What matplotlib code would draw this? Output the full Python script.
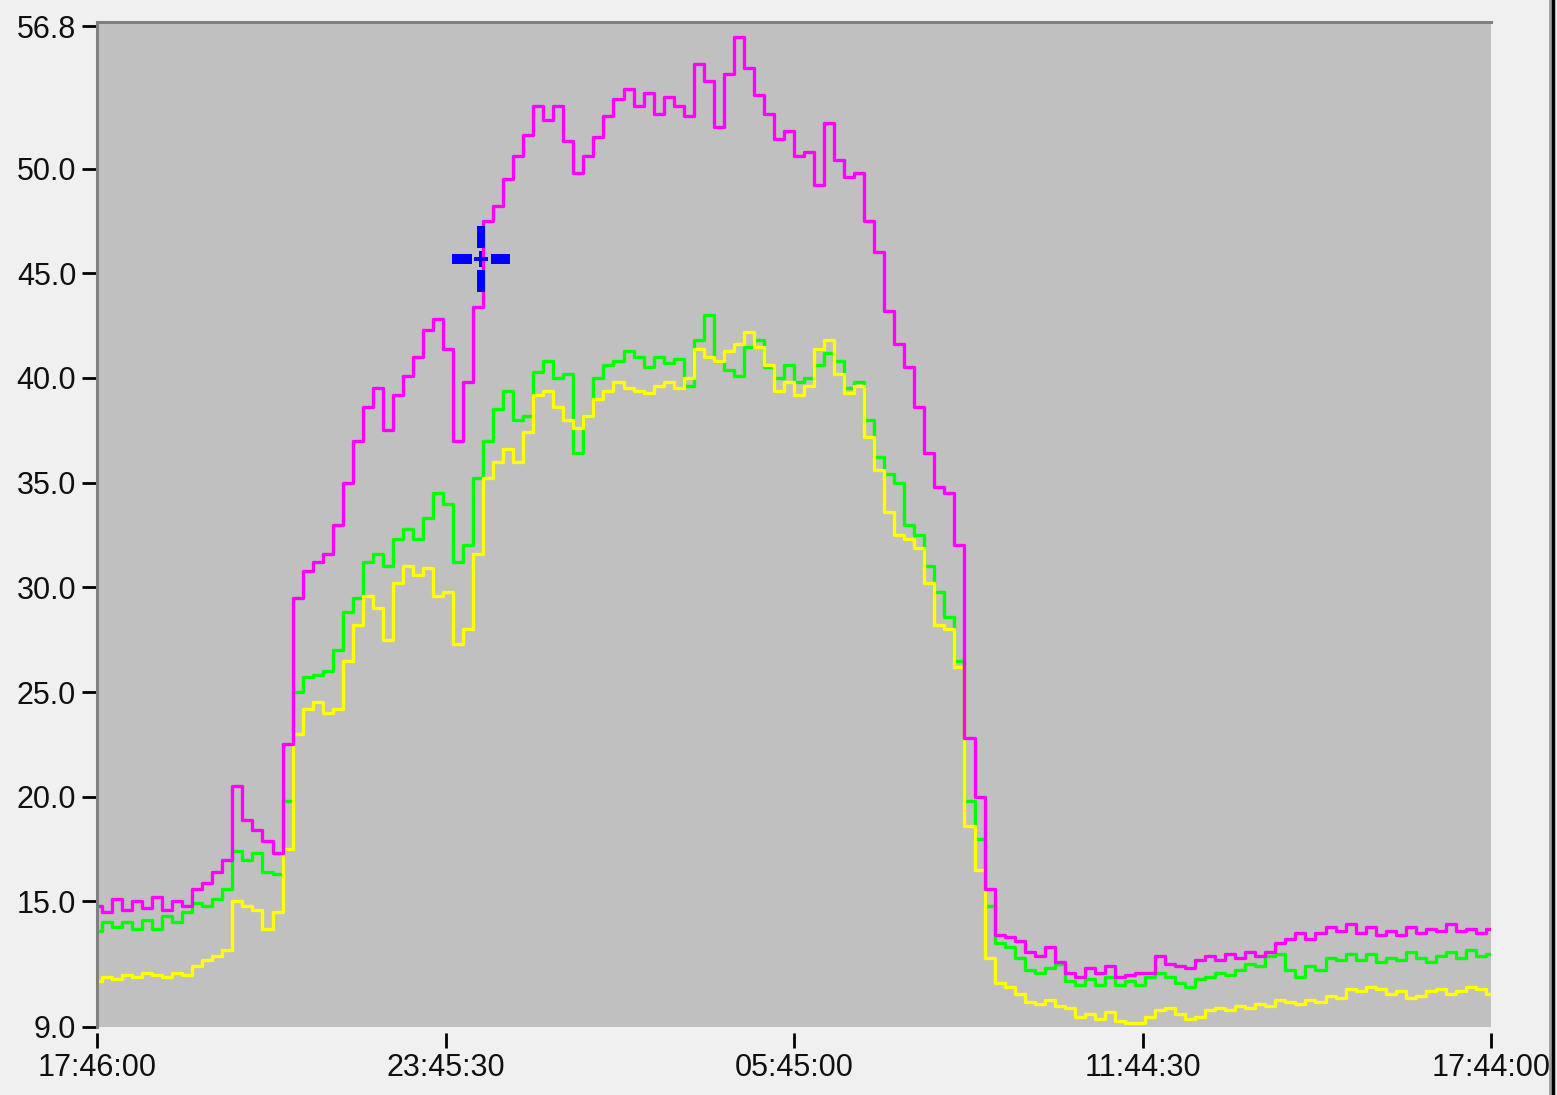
import matplotlib
matplotlib.use("Agg")
import matplotlib.pyplot as plt
import matplotlib.transforms as mtransforms
from matplotlib import font_manager
from matplotlib.patches import Rectangle
from matplotlib.lines import Line2D
import numpy as np

# time span of the record in seconds after 17:46:00 (ends 17:44:00 next day)
span_seconds = 86280
tick_seconds = [0, 21570, 43140, 64710, 86280]
tick_labels = ["17:46:00", "23:45:30", "05:45:00", "11:44:30", "17:44:00"]
y_ticks = [9.0, 15.0, 20.0, 25.0, 30.0, 35.0, 40.0, 45.0, 50.0, 56.8]

# magenta channel
magenta_vals = [
    14.8, 14.5, 15.1, 14.6, 15.0, 14.7, 15.2, 14.6, 15.0, 14.8,
    15.6, 15.9, 16.4, 17.0, 20.5, 18.9, 18.4, 17.9, 17.3, 22.5,
    29.5, 30.8, 31.2, 31.6, 33.0, 35.0, 37.0, 38.6, 39.5, 37.5,
    39.2, 40.1, 41.0, 42.3, 42.8, 41.4, 37.0, 39.8, 43.4, 47.5,
    48.2, 49.5, 50.6, 51.6, 53.0, 52.3, 53.0, 51.3, 49.8, 50.6,
    51.5, 52.5, 53.3, 53.8, 53.0, 53.6, 52.6, 53.4, 53.0, 52.5,
    55.0, 54.2, 52.0, 54.5, 56.3, 54.8, 53.5, 52.6, 51.4, 51.8,
    50.6, 50.8, 49.2, 52.2, 50.4, 49.6, 49.8, 47.5, 46.0, 43.2,
    41.6, 40.5, 38.6, 36.4, 34.8, 34.5, 32.0, 22.8, 20.0, 15.6,
    13.4, 13.3, 13.1, 12.6, 12.4, 12.8, 12.1, 11.6, 11.4, 11.8,
    11.6, 11.9, 11.4, 11.5, 11.6, 11.6, 12.4, 12.0, 11.9, 11.8,
    12.2, 12.4, 12.2, 12.5, 12.3, 12.6, 12.4, 12.6, 13.0, 13.2,
    13.5, 13.2, 13.5, 13.8, 13.6, 13.9, 13.5, 13.8, 13.4, 13.6,
    13.4, 13.8, 13.5, 13.7, 13.6, 13.9, 13.6, 13.7, 13.5, 13.7,
]

# green channel
green_vals = [
    13.6, 14.0, 13.8, 14.0, 13.7, 14.1, 13.7, 14.3, 14.0, 14.5,
    14.9, 14.8, 15.1, 15.6, 17.4, 17.0, 17.3, 16.4, 16.3, 19.8,
    25.0, 25.7, 25.8, 26.0, 27.0, 28.8, 29.5, 31.2, 31.6, 31.0,
    32.3, 32.8, 32.3, 33.3, 34.5, 34.0, 31.2, 32.0, 35.2, 37.0,
    38.5, 39.4, 38.0, 38.2, 40.3, 40.8, 40.0, 40.2, 36.4, 38.2,
    40.0, 40.6, 40.8, 41.3, 41.0, 40.5, 41.0, 40.7, 40.9, 39.6,
    41.8, 43.0, 40.8, 40.4, 40.1, 41.5, 41.8, 40.5, 40.0, 40.6,
    39.8, 40.0, 40.6, 41.2, 40.8, 39.5, 39.8, 38.0, 36.2, 35.4,
    35.0, 33.0, 32.5, 31.0, 29.8, 28.6, 26.5, 19.8, 18.0, 14.8,
    13.0, 12.8, 12.3, 11.7, 11.6, 11.8, 12.0, 11.2, 11.0, 11.3,
    11.0, 11.4, 11.0, 11.2, 11.0, 11.4, 11.6, 11.4, 11.1, 10.9,
    11.3, 11.4, 11.6, 11.5, 11.7, 12.0, 11.9, 12.4, 12.5, 11.7,
    11.4, 11.9, 11.7, 12.3, 12.2, 12.5, 12.2, 12.5, 12.1, 12.3,
    12.2, 12.6, 12.3, 12.1, 12.4, 12.6, 12.3, 12.7, 12.4, 12.5,
]

# yellow channel
yellow_vals = [
    11.2, 11.4, 11.3, 11.5, 11.4, 11.6, 11.5, 11.4, 11.6, 11.5,
    11.9, 12.2, 12.4, 12.7, 15.0, 14.8, 14.6, 13.7, 14.5, 17.5,
    23.0, 24.2, 24.5, 24.0, 24.2, 26.5, 28.2, 29.6, 29.0, 27.5,
    30.2, 31.0, 30.6, 30.9, 29.6, 29.8, 27.3, 28.0, 31.6, 35.2,
    36.0, 36.6, 36.0, 37.4, 39.2, 39.4, 38.6, 38.0, 37.6, 38.2,
    39.0, 39.4, 39.8, 39.5, 39.4, 39.3, 39.6, 39.8, 39.5, 40.0,
    41.4, 41.0, 40.8, 41.3, 41.6, 42.2, 41.5, 40.6, 39.4, 39.8,
    39.2, 39.6, 41.4, 41.8, 40.2, 39.3, 39.6, 37.2, 35.6, 33.6,
    32.5, 32.3, 31.9, 30.2, 28.2, 28.0, 26.2, 18.6, 16.5, 12.3,
    11.1, 10.9, 10.6, 10.2, 10.1, 10.3, 10.0, 9.9, 9.5, 9.6,
    9.4, 9.7, 9.3, 9.2, 9.2, 9.5, 9.8, 9.9, 9.6, 9.4,
    9.5, 9.8, 9.9, 9.8, 10.0, 9.9, 10.1, 10.0, 10.3, 10.2,
    10.1, 10.3, 10.2, 10.5, 10.4, 10.8, 10.7, 10.9, 10.8, 10.6,
    10.7, 10.4, 10.5, 10.7, 10.8, 10.6, 10.7, 10.9, 10.8, 10.6,
]

# cursor position (time in seconds, value)
cursor_t = 23760
cursor_v = 45.7

#----------------------------------------------------------------------
def pickFont():
    # the reference uses a narrow sans font; take the narrowest one that is installed
    names = {f.name for f in font_manager.fontManager.ttflist}
    if "Liberation Sans Narrow" in names:
        return "Liberation Sans Narrow", 26
    if "DejaVu Sans Condensed" in names:
        return "DejaVu Sans Condensed", 21.5
    return "Liberation Sans", 22

#----------------------------------------------------------------------
def drawCursor(fig, ax):
    # blue crosshair, sizes in pixels around the data point (dpi 100 -> 0.01 in per px)
    trans = fig.dpi_scale_trans + mtransforms.ScaledTranslation(cursor_t, cursor_v, ax.transData)
    boxes = [(-4, 11, 8, 22), (-4, -33, 8, 22), (-29, -5, 20, 10), (10, -5, 19, 10),
             (-7, -2, 14, 4), (-1.5, -8, 3, 16)]
    for bx, by, bw, bh in boxes:
        ax.add_patch(Rectangle((bx / 100, by / 100), bw / 100, bh / 100, transform=trans,
                               facecolor="#0000FF", edgecolor="none", zorder=5, clip_on=False))

#----------------------------------------------------------------------
def makePlot():
    family, size = pickFont()
    plt.rcParams["font.family"] = [family, "DejaVu Sans"]
    plt.rcParams["font.size"] = size

    fig = plt.figure(figsize=(15.57, 10.95), dpi=100, facecolor="#F0F0F0")
    ax = fig.add_axes([97 / 1557, 1 - 1027 / 1095, 1394 / 1557, 1005 / 1095])
    ax.set_facecolor("#C0C0C0")

    # spines first: moving a spine resets the tick labels
    for side in ["right", "bottom"]:
        ax.spines[side].set_visible(False)
    for side in ["left", "top"]:
        ax.spines[side].set_color("#808080")
        ax.spines[side].set_linewidth(2.2)
    ax.spines["bottom"].set_position(("outward", 4))

    t = np.linspace(0, span_seconds, len(magenta_vals))
    ax.plot(t, green_vals, color="#00FF00", lw=2.4, drawstyle="steps-mid")
    ax.plot(t, yellow_vals, color="#FFFF00", lw=2.4, drawstyle="steps-mid")
    ax.plot(t, magenta_vals, color="#FF00FF", lw=2.4, drawstyle="steps-mid")

    ax.set_xlim(0, span_seconds)
    ax.set_ylim(9.0, 57.0)

    ax.set_xticks(tick_seconds)
    ax.set_xticklabels(tick_labels)
    ax.set_yticks(y_ticks)
    ax.set_yticklabels(["%.1f" % v for v in y_ticks])
    ax.tick_params(axis="both", direction="out", length=11, width=2, color="black",
                   labelsize=size, labelcolor="#101010")
    ax.tick_params(axis="y", pad=4)
    ax.tick_params(axis="x", pad=4)

    drawCursor(fig, ax)

    # window border on the right
    fig.add_artist(Line2D([1549.5 / 1557, 1549.5 / 1557], [0, 1], color="#A0A0A0", lw=2))
    fig.add_artist(Line2D([1553 / 1557, 1553 / 1557], [0, 1], color="black", lw=2.5))

    fig.savefig("out.png", dpi=100, facecolor=fig.get_facecolor())

if __name__ == "__main__":
    makePlot()
